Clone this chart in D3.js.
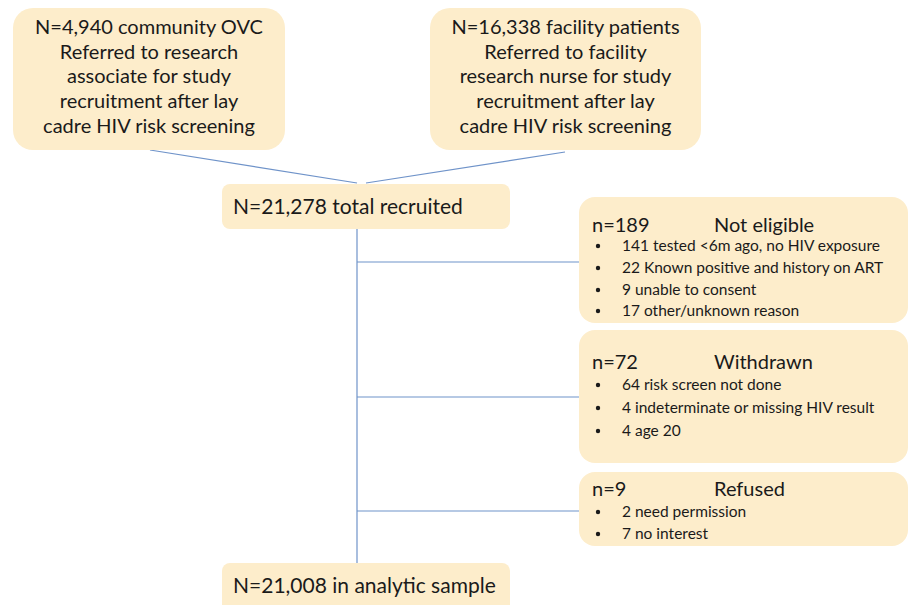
<!DOCTYPE html>
<html>
<head>
<meta charset="utf-8">
<script src="https://cdn.jsdelivr.net/npm/d3@7"></script>
<style>
  body { margin: 0; background: #fff; }
  svg { display: block; }
  text { font-family: Lato, "Open Sans", sans-serif; fill: #1a1a1a; }
</style>
</head>
<body>
<svg width="910" height="605"></svg>
<script>
// source boxes
var sourceLines1 = ["N=4,940 community OVC", "Referred to research", "associate for study", "recruitment after lay", "cadre HIV risk screening"];
var sourceLines2 = ["N=16,338 facility patients", "Referred to facility", "research nurse for study", "recruitment after lay", "cadre HIV risk screening"];
var totalLabel = "N=21,278 total recruited";
var finalLabel = "N=21,008 in analytic sample";

// exclusion boxes
var exclCounts = ["n=189", "n=72", "n=9"];
var exclTitles = ["Not eligible", "Withdrawn", "Refused"];
var exclItems = [
    ["141 tested <6m ago, no HIV exposure", "22 Known positive and history on ART", "9 unable to consent", "17 other/unknown reason"],
    ["64 risk screen not done", "4 indeterminate or missing HIV result", "4 age 20"],
    ["2 need permission", "7 no interest"]
];

var svg = d3.select("svg");
var fill = "#fdedcb", stroke = "#6f93c9";

// layout
var src = [
    {x: 13, y: 8, w: 272, h: 142, lines: sourceLines1, anchor: [150, 150], end: [357, 183]},
    {x: 430, y: 8, w: 271, h: 142, lines: sourceLines2, anchor: [565, 152], end: [366, 183]}
];
var mid = {x: 222, y: 184, w: 288, h: 45};
var fin = {x: 222, y: 563, w: 288, h: 60};
var spineX = 357;
var excl = [
    {y: 197, h: 126, branch: 262, head: 232, rows: [251, 273, 295, 316]},
    {y: 330, h: 133, branch: 397, head: 369, rows: [390, 413, 436]},
    {y: 472, h: 74, branch: 511, head: 496, rows: [517, 539]}
];
var exclX = 579, exclW = 329;

var lines = svg.append("g").attr("stroke", stroke).attr("stroke-width", 1.2);
src.forEach(function (s) {
    lines.append("line").attr("x1", s.anchor[0]).attr("y1", s.anchor[1])
        .attr("x2", s.end[0]).attr("y2", s.end[1]);
});
lines.append("line").attr("x1", spineX).attr("y1", mid.y + mid.h).attr("x2", spineX).attr("y2", fin.y);
lines.selectAll(".branch")
    .data(excl)
    .enter().append("line")
    .attr("class", "branch")
    .attr("x1", spineX).attr("x2", exclX)
    .attr("y1", function (d) { return d.branch; })
    .attr("y2", function (d) { return d.branch; });

// source boxes
var sg = svg.selectAll(".src")
    .data(src)
    .enter().append("g")
    .attr("class", "src");
sg.append("rect")
    .attr("x", function (d) { return d.x; })
    .attr("y", function (d) { return d.y; })
    .attr("width", function (d) { return d.w; })
    .attr("height", function (d) { return d.h; })
    .attr("rx", 20).attr("fill", fill);
sg.each(function (d) {
    d3.select(this).selectAll("text")
        .data(d.lines)
        .enter().append("text")
        .attr("x", d.x + d.w / 2)
        .attr("y", function (t, i) { return d.y + 26 + i * 24.7; })
        .attr("text-anchor", "middle")
        .attr("font-size", 20)
        .text(function (t) { return t; });
});

// total / final
[[mid, totalLabel, 214], [fin, finalLabel, 593]].forEach(function (b) {
    svg.append("rect").attr("x", b[0].x).attr("y", b[0].y)
        .attr("width", b[0].w).attr("height", b[0].h)
        .attr("rx", 8).attr("fill", fill);
    svg.append("text").attr("x", b[0].x + 11).attr("y", b[2])
        .attr("font-size", 21).text(b[1]);
});

// exclusion boxes
var eg = svg.selectAll(".excl")
    .data(excl)
    .enter().append("g")
    .attr("class", "excl");
eg.append("rect")
    .attr("x", exclX)
    .attr("y", function (d) { return d.y; })
    .attr("width", exclW)
    .attr("height", function (d) { return d.h; })
    .attr("rx", 16).attr("fill", fill);
eg.each(function (d, i) {
    var g = d3.select(this);
    g.append("text").attr("x", 592).attr("y", d.head).attr("font-size", 20).text(exclCounts[i]);
    g.append("text").attr("x", 714).attr("y", d.head).attr("font-size", 20).text(exclTitles[i]);
    exclItems[i].forEach(function (t, j) {
        g.append("circle").attr("cx", 598).attr("cy", d.rows[j] - 5).attr("r", 2.2).attr("fill", "#1a1a1a");
        g.append("text").attr("x", 622).attr("y", d.rows[j]).attr("font-size", 15.5).text(t);
    });
});
</script>
</body>
</html>
